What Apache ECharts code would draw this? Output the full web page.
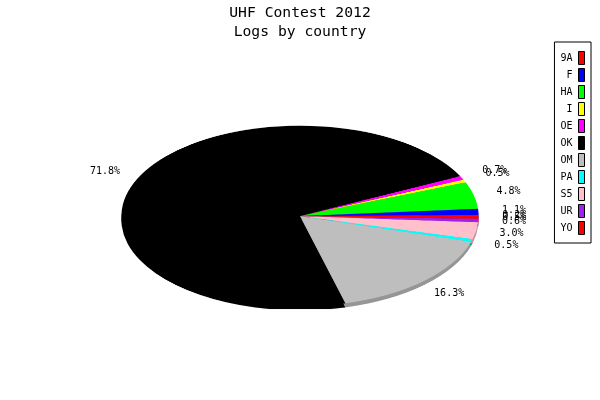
<!DOCTYPE html>
<html>
<head>
<meta charset="utf-8">
<script src="https://cdn.jsdelivr.net/npm/echarts@6/dist/echarts.min.js"></script>
<style>
  html, body { margin: 0; padding: 0; background: #fff; }
  #wrap { position: relative; width: 600px; height: 400px; }
  #pie, #chart { position: absolute; left: 0; top: 0; width: 600px; height: 400px; }
  /* squash the round pie into the flat ellipse of the original */
  #pie { transform: scaleY(0.5056); transform-origin: 300px 216px; }
</style>
</head>
<body>
<div id="wrap">
  <div id="pie"></div>
  <div id="chart"></div>
</div>
<script>
// data (share of logs, %)
const countries = ['9A', 'F', 'HA', 'I', 'OE', 'OK', 'OM', 'PA', 'S5', 'UR', 'YO'];
const shares = [0.2, 1.1, 4.8, 0.5, 0.7, 71.8, 16.3, 0.5, 3.0, 0.6, 0.5];

const colors = ['#ff0000', '#0000ff', '#00ff00', '#ffff00', '#ff00ff', '#000000',
                '#bebebe', '#00ffff', '#ffc0cb', '#a020f0', '#ff0000'];
const sideColors = ['#c00000', '#0000b0', '#00b000', '#b0b000', '#b000b0', '#000000',
                    '#969696', '#00b4b4', '#c8919a', '#7818b4', '#c00000'];

const font = 'DejaVu Sans Mono';
const cx = 300, cy = 216, r = 178.6, squash = 0.5056;

const pieData = countries.map((c, i) => ({ name: c, value: shares[i] }));

// layer 1: the slices (plus a darker copy shifted down for the thick edge)
const pieChart = echarts.init(document.getElementById('pie'));
pieChart.setOption({
    animation: false,
    series: [
        {
            type: 'pie',
            silent: true,
            center: [cx, cy + 8],
            radius: r,
            startAngle: 0,
            clockwise: false,
            label: { show: false },
            labelLine: { show: false },
            itemStyle: { borderWidth: 0, color: (p) => sideColors[p.dataIndex] },
            data: pieData
        },
        {
            type: 'pie',
            silent: true,
            center: [cx, cy],
            radius: r,
            startAngle: 0,
            clockwise: false,
            label: { show: false },
            labelLine: { show: false },
            itemStyle: { borderWidth: 0, color: (p) => colors[p.dataIndex] },
            data: pieData
        }
    ]
});

// layer 2: title, legend and the percentage labels
const chart = echarts.init(document.getElementById('chart'));
chart.setOption({
    animation: false,
    title: {
        text: 'UHF Contest 2012\nLogs by country',
        left: 300,
        top: 4,
        padding: 0,
        textAlign: 'center',
        textStyle: { fontFamily: font, fontSize: 14.7, fontWeight: 'normal', color: '#000', lineHeight: 19 }
    },
    legend: {
        orient: 'vertical',
        right: 9,
        top: 42,
        padding: [9, 6, 8, 6],
        itemGap: 3,
        itemWidth: 6,
        itemHeight: 13,
        align: 'right',
        icon: 'rect',
        borderColor: '#000',
        borderWidth: 1,
        selectedMode: false,
        textStyle: { fontFamily: font, fontSize: 10, lineHeight: 11, color: '#000', padding: [0, 1, 0, 0] },
        itemStyle: { opacity: 1, borderColor: '#000', borderWidth: 1 },
        data: countries.map((c, i) => ({ name: c, itemStyle: { color: colors[i] } }))
    },
    series: [
        {
            type: 'pie',
            center: [cx, cy],
            radius: r,
            startAngle: 0,
            clockwise: false,
            avoidLabelOverlap: false,
            itemStyle: { color: 'rgba(0,0,0,0)', borderWidth: 0 },
            emphasis: { disabled: true },
            label: {
                show: true,
                position: 'outside',
                distanceToLabelLine: 0,
                fontFamily: font,
                fontSize: 10,
                color: '#000',
                formatter: (p) => p.percent.toFixed(1) + '%'
            },
            labelLine: { show: false, length: r * 0.2, length2: 0 },
            labelLayout: function (p) {
                const b = p.labelRect;
                const ax = p.align === 'left' ? b.x : (p.align === 'right' ? b.x + b.width : b.x + b.width / 2);
                const ay = b.y + b.height / 2;
                return { x: ax, y: cy + (ay - cy) * squash, align: 'center', verticalAlign: 'middle' };
            },
            data: pieData
        }
    ]
});
</script>
</body>
</html>
